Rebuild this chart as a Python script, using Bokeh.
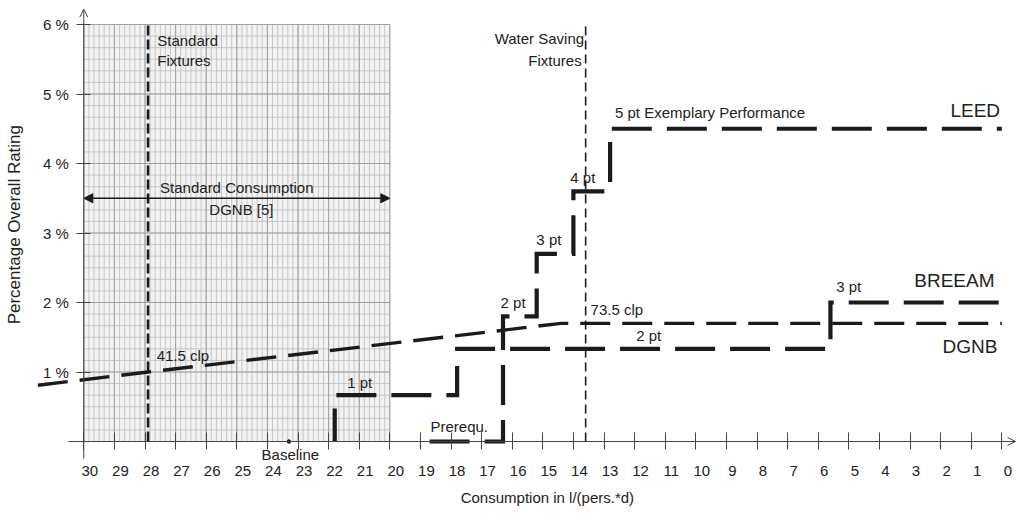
import numpy as np
from math import pi
from bokeh.plotting import figure
from bokeh.models import (Range1d, LinearAxis, FixedTicker, CustomJSTickFormatter,
                          PrintfTickFormatter, Arrow, OpenHead, NormalHead)
from bokeh.core.properties import value
from bokeh.embed import file_html
from bokeh.resources import INLINE

# ---------------- data ----------------
x_ticks = list(range(30, -1, -1))          # consumption in l/(pers.*d)
y_ticks = [1, 2, 3, 4, 5, 6]               # percentage overall rating

leed_x = [18.7, 16.3, 16.3, 15.2, 15.2, 14.0, 14.0, 12.8, 12.8, 0.0]
leed_y = [0.0, 0.0, 1.8, 1.8, 2.7, 2.7, 3.6, 3.6, 4.5, 4.5]

breeam_x = [21.8, 21.8, 17.8, 17.8, 5.6, 5.6, 0.0]
breeam_y = [0.0, 0.667, 0.667, 1.333, 1.333, 2.0, 2.0]

dgnb_x = [31.5, 27.9, 14.4, 0.0]
dgnb_y = [0.81, 1.0, 1.7, 1.7]

standard_fixtures_x = 27.9
water_saving_x = 13.6
baseline_x = 23.3
std_consumption = (30, 20)
std_consumption_level = 3.5
paper_x = (20, 30)
paper_y = (0, 6)

# ---------------- figure geometry ----------------
W, H = 1016, 510
OFF = 0              # page offset of the canvas
PX_PER_X = 30.6      # pixels per l/(pers.*d)
PX_PER_Y = 69.5      # pixels per %
X30_PX, Y0_PX = 83.3, 441.0   # picture position of x=30 and y=0

x_start = 30 + (X30_PX - OFF) / PX_PER_X
x_end = 30 - (OFF + W - X30_PX) / PX_PER_X
y_end = (Y0_PX - OFF) / PX_PER_Y
y_start = (Y0_PX - (OFF + H)) / PX_PER_Y

p = figure(width=W, height=H, x_range=Range1d(x_start, x_end), y_range=Range1d(y_start, y_end),
           x_axis_type=None, y_axis_type=None, toolbar_location=None, output_backend="svg",
           min_border=0)
p.outline_line_color = None
p.background_fill_color = "white"
p.border_fill_color = "white"

FONT = value("Liberation Sans")
TXT = "#222222"
INK = "#1b1b1b"

# ---------------- graph-paper region ----------------
p.quad(left=[paper_x[0]], right=[paper_x[1]], bottom=[paper_y[0]], top=[paper_y[1]],
       fill_color="#f2f2f2", line_color=None)
vx = np.linspace(paper_x[0], paper_x[1], 61)
hy = np.linspace(paper_y[0], paper_y[1], 37)
p.segment(x0=vx, y0=[paper_y[0]] * len(vx), x1=vx, y1=[paper_y[1]] * len(vx),
          line_color="#c2c2c2", line_width=0.9)
p.segment(x0=[paper_x[0]] * len(hy), y0=hy, x1=[paper_x[1]] * len(hy), y1=hy,
          line_color="#c2c2c2", line_width=0.9)
mx = np.arange(paper_x[0], paper_x[1] + 1)
my = np.arange(paper_y[0], paper_y[1] + 1)
p.segment(x0=mx, y0=[paper_y[0]] * len(mx), x1=mx, y1=[paper_y[1]] * len(mx),
          line_color="#a0a0a0", line_width=1)
p.segment(x0=[paper_x[0]] * len(my), y0=my, x1=[paper_x[1]] * len(my), y1=my,
          line_color="#a0a0a0", line_width=1)

# ---------------- reference lines ----------------
p.line([standard_fixtures_x, standard_fixtures_x], [0, 6], line_color=INK, line_width=2.6,
       line_dash="10 4")
p.line([water_saving_x, water_saving_x], [0, 6], line_color=INK, line_width=1.6,
       line_dash="9 5")

p.add_layout(Arrow(start=NormalHead(size=9, fill_color=INK, line_color=INK),
                   end=NormalHead(size=9, fill_color=INK, line_color=INK),
                   x_start=std_consumption[0], x_end=std_consumption[1],
                   y_start=std_consumption_level, y_end=std_consumption_level,
                   line_color=INK, line_width=1.3))

# ---------------- series ----------------
p.line(dgnb_x, dgnb_y, line_color=INK, line_width=3.4, line_dash="30 12", line_join="miter")
p.line(breeam_x, breeam_y, line_color=INK, line_width=4.2, line_dash="40 15", line_join="miter",
       line_dash_offset=7)
p.line(leed_x, leed_y, line_color=INK, line_width=4.2, line_dash="40 15", line_join="miter")

p.scatter([baseline_x], [0], size=3.5, color=INK)

# ---------------- axes ----------------
p.add_layout(Arrow(end=OpenHead(size=8, line_width=1, line_color="#444444"),
                   x_start=30.5, y_start=0, x_end=-0.45, y_end=0,
                   line_color="#444444", line_width=1))
p.add_layout(Arrow(end=OpenHead(size=8, line_width=1, line_color="#444444"),
                   x_start=30, y_start=-0.245, x_end=30, y_end=6.22,
                   line_color="#444444", line_width=1))

xtick_axis = LinearAxis(ticker=FixedTicker(ticks=x_ticks, minor_ticks=[]),
                        formatter=CustomJSTickFormatter(code="return ''"),
                        fixed_location=0, axis_line_color=None,
                        major_tick_in=9, major_tick_out=8,
                        major_tick_line_color="#444444", minor_tick_line_color=None)
p.add_layout(xtick_axis, "below")

LABEL_SHIFT = 0.196
xlabel_axis = LinearAxis(ticker=FixedTicker(ticks=[t - LABEL_SHIFT for t in x_ticks], minor_ticks=[]),
                         formatter=CustomJSTickFormatter(code="return Math.round(tick + %s).toString()" % LABEL_SHIFT),
                         fixed_location=0, axis_line_color=None,
                         major_tick_in=0, major_tick_out=8,
                         major_tick_line_color=None, minor_tick_line_color=None,
                         major_label_standoff=16,
                         major_label_text_font="Liberation Sans",
                         major_label_text_font_size="15px",
                         major_label_text_color=TXT)
p.add_layout(xlabel_axis, "below")

yaxis = LinearAxis(ticker=FixedTicker(ticks=y_ticks, minor_ticks=[]),
                   formatter=PrintfTickFormatter(format="%d %%"),
                   fixed_location=30, axis_line_color=None,
                   major_tick_in=7, major_tick_out=7,
                   major_tick_line_color="#444444", minor_tick_line_color=None,
                   major_label_standoff=8,
                   major_label_text_font="Liberation Sans",
                   major_label_text_font_size="15px",
                   major_label_text_color=TXT)
p.add_layout(yaxis, "left")


# ---------------- texts ----------------
def label(x, y, txt, size="15px", align="left", angle=0.0):
    p.text(x=[x], y=[y], text=[txt], text_font=FONT, text_font_size=size,
           text_align=align, text_baseline="middle", text_color=TXT, angle=angle)


label(27.60, 5.77, "Standard")
label(27.60, 5.48, "Fixtures")
label(13.65, 5.80, "Water Saving", align="right")
label(13.73, 5.48, "Fixtures", align="right")
label(12.64, 4.73, "5 pt Exemplary Performance")
label(1.68, 4.76, "LEED", size="19px")
label(14.10, 3.80, "4 pt")
label(15.21, 2.91, "3 pt")
label(16.38, 2.00, "2 pt")
label(13.44, 1.90, "73.5 clp")
label(11.95, 1.525, "2 pt")
label(5.41, 2.23, "3 pt")
label(2.86, 2.31, "BREEAM", size="19px")
label(1.94, 1.37, "DGNB", size="19px")
label(21.39, 0.853, "1 pt")
label(18.67, 0.216, "Prerequ.")
label(27.62, 1.237, "41.5 clp")
label(23.25, -0.187, "Baseline", align="center")
label(25.0, 3.65, "Standard Consumption", align="center")
label(24.85, 3.34, "DGNB [5]", align="center")
label(14.85, -0.806, "Consumption in l/(pers.*d)", align="center")
label(32.26, 3.12, "Percentage Overall Rating", size="17px", align="center", angle=pi / 2)

open("out.html", "w").write(file_html(p, INLINE))
